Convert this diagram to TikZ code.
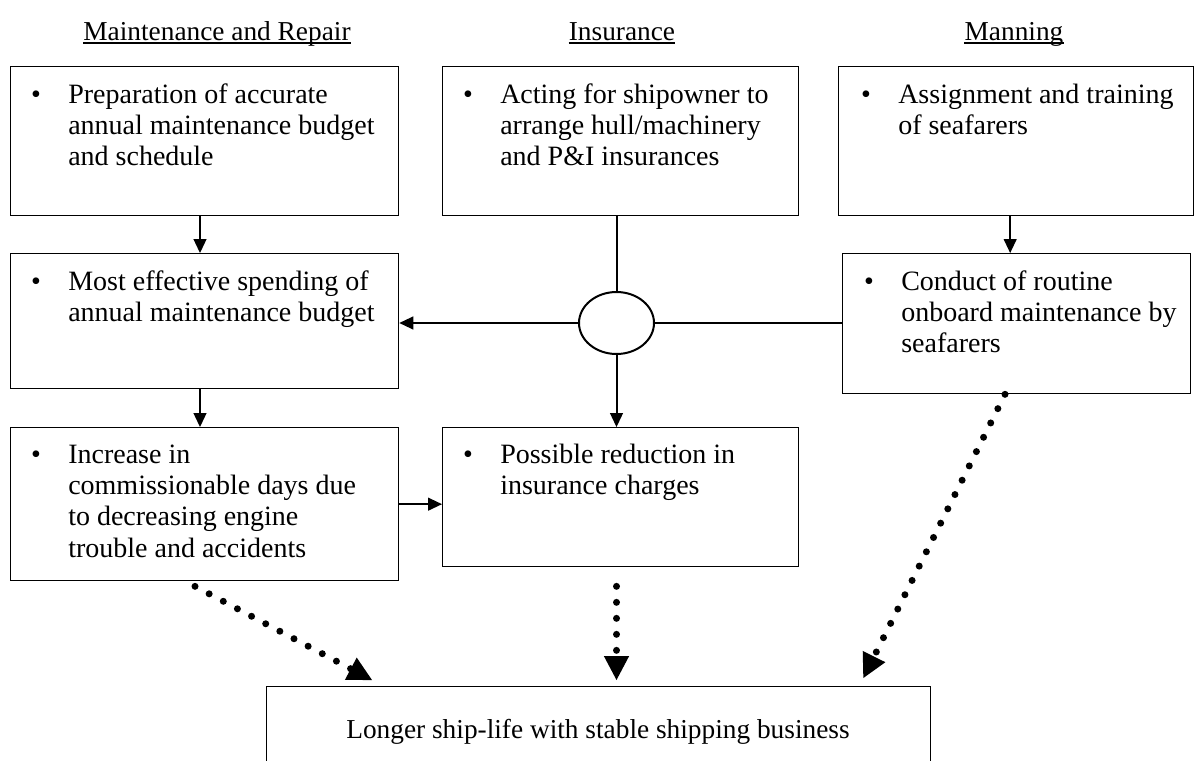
\documentclass[tikz,border=0pt]{standalone}
\usepackage{fontspec}
\setmainfont{Liberation Serif}
\usetikzlibrary{arrows.meta,calc,shapes.geometric}

% bullet hung to the left of the first text line
\newcommand{\bulmark}{\makebox[0pt][r]{\textbullet\hspace{20.5pt}}}
\newcommand{\bullines}[1]{\bulmark\begin{tabular}[t]{@{}l@{}}#1\end{tabular}}

\tikzset{
  box/.style 2 args={draw, line width=1pt, rectangle, inner sep=0pt, anchor=north west,
    minimum width=#1*0.75pt, minimum height=#2*0.75pt},
  body/.style={inner sep=0pt, anchor=base west, font=\fontsize{21}{23.6}\selectfont},
  title/.style={inner sep=0pt, anchor=base, font=\fontsize{20.5}{23}\selectfont},
  uline/.style={line width=1.1pt},
  flow/.style={line width=1.5pt, -{Triangle[length=10.5pt,width=10pt,line width=0pt]}},
  link/.style={line width=1.5pt},
  dots/.style={line width=5.25pt, line cap=round, dash pattern=on 0pt off 12pt,
    -{Triangle[length=18pt,width=19pt,line width=0pt]}},
}

\begin{document}
\begin{tikzpicture}[x=0.75pt,y=-0.75pt]
\useasboundingbox (0,0) rectangle (1195,760);
\clip (0,0) rectangle (1195,760);

% column titles
\node[title] (hM) at (217,40) {Maintenance and Repair};
\node[title] (hI) at (622,40) {Insurance};
\node[title] (hN) at (1014,40) {Manning};
\foreach \h in {hM,hI,hN}
  \draw[uline] ([yshift=-2.4pt]\h.base west) -- ([yshift=-2.4pt]\h.base east);

% boxes
\node[box={388}{149}] (A1) at (10,66) {};
\node[box={356}{149}] (B1) at (442,66) {};
\node[box={355}{149}] (C1) at (838,66) {};
\node[box={388}{135}] (A2) at (10,253) {};
\node[box={348}{140}] (C2) at (842,253) {};
\node[box={388}{153}] (A3) at (10,427) {};
\node[box={356}{139}] (B3) at (442,427) {};
\node[box={664}{130}] (D)  at (266,686) {};

% hub ellipse
\node[draw, ellipse, line width=1.5pt, inner sep=0pt,
      minimum width=56.25pt, minimum height=46.5pt] (E) at (616.5,323) {};

% box texts
\node[body] (A1t) at (68,103) {\bullines{Preparation of accurate\\annual maintenance budget\\and schedule}};
\node[body] (B1t) at (500,103) {\bullines{Acting for shipowner to\\arrange hull/machinery\\and P\&I insurances}};
\node[body] (C1t) at (898,103) {\bullines{Assignment and training\\of seafarers}};
\node[body] (A2t) at (68,290) {\bullines{Most effective spending of\\annual maintenance budget}};
\node[body] (C2t) at (901,290) {\bullines{Conduct of routine\\onboard maintenance by\\seafarers}};
\node[body] (A3t) at (68,463) {\bullines{Increase in\\commissionable days due\\to decreasing engine\\trouble and accidents}};
\node[body] (B3t) at (500,463) {\bullines{Possible reduction in\\insurance charges}};
\node[title] (Dt) at (598,738) {Longer ship-life with stable shipping business};

% solid connectors
\draw[flow] ([xshift=-3.5pt]A1.south) -- ([xshift=-3.5pt]A1.south |- A2.north);
\draw[flow] ([xshift=-3.5pt]A2.south) -- ([xshift=-3.5pt]A2.south |- A3.north);
\draw[flow] ([xshift=-4.5pt]C1.south) -- ([xshift=-4.5pt]C1.south |- C2.north);
\draw[link] (E.north |- B1.south) -- (E.north);
\draw[flow] (E.west) -- (E.west -| A2.east);
\draw[link] (E.east) -- (E.east -| C2.west);
\draw[flow] (E.south) -- (E.south |- B3.north);
\draw[flow] (A3.east) -- (A3.east -| B3.west);

% dotted connectors into the result box
\coordinate (s1) at ($(A3.south west)+(185,5)$);
\coordinate (t1) at ($(D.north west)+(106,-6)$);
\coordinate (s2) at ($(E.south |- A3.south)+(0,5)$);
\coordinate (t2) at ($(E.south |- D.north)+(0,-6)$);
\coordinate (s3) at ($(C2.south west)+(163,0)$);
\coordinate (t3) at ($(D.north east)+(-68,-8)$);
\draw[dots] (s1) -- (t1);
\draw[dots] (s2) -- (t2);
\draw[dots] (s3) -- (t3);
\end{tikzpicture}
\end{document}
